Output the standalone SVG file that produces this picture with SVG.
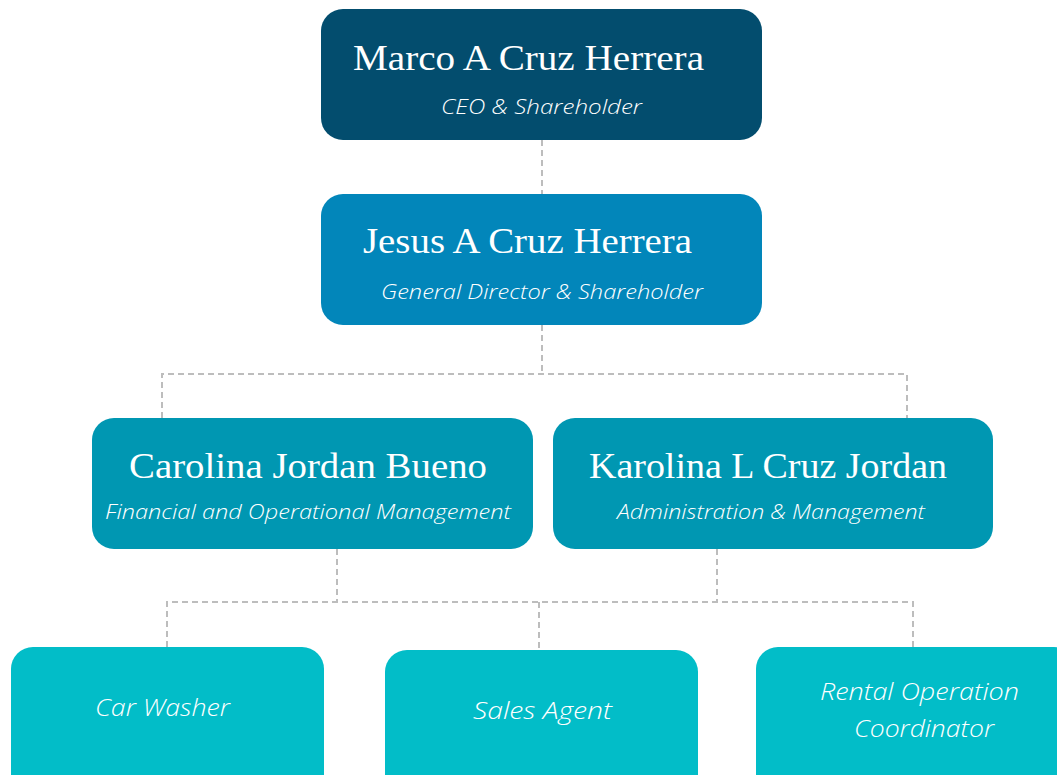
<svg xmlns="http://www.w3.org/2000/svg" width="1057" height="775" viewBox="0 0 1057 775">
<style>
.name{font-family:"Liberation Serif",serif;font-size:36px;fill:#fff}
.sub{font-family:"Open Sans","Noto Sans",sans-serif;font-style:italic;font-weight:300;font-size:21px;fill:#fff}
.job{font-family:"Open Sans","Noto Sans",sans-serif;font-style:italic;font-weight:300;font-size:24px;fill:#fff}
.con{fill:none;stroke:#BDBDBD;stroke-width:2;stroke-dasharray:6 4}
</style>
<rect width="1057" height="775" fill="#fff"/>
<g id="connectors">
<path class="con" d="M542 140V194"/>
<path class="con" d="M542 325V374M162 418V374H907V418"/>
<path class="con" d="M337 549V602M717 549V602M167 647V602H913V647M539 602V650"/>
</g>
<g id="ceo">
<rect x="321" y="9" width="441" height="131" rx="22" fill="#034D6E"/>
<text class="name" x="353" y="70" textLength="351" lengthAdjust="spacingAndGlyphs">Marco A Cruz Herrera</text>
<text class="sub" x="441" y="114" textLength="201" lengthAdjust="spacingAndGlyphs">CEO &amp; Shareholder</text>
</g>
<g id="director">
<rect x="321" y="194" width="441" height="131" rx="22" fill="#0286BA"/>
<text class="name" x="363" y="253" textLength="329" lengthAdjust="spacingAndGlyphs">Jesus A Cruz Herrera</text>
<text class="sub" x="381" y="299" textLength="322" lengthAdjust="spacingAndGlyphs">General Director &amp; Shareholder</text>
</g>
<g id="carolina">
<rect x="92" y="418" width="441" height="131" rx="22" fill="#0097B2"/>
<text class="name" x="129" y="478" textLength="358" lengthAdjust="spacingAndGlyphs">Carolina Jordan Bueno</text>
<text class="sub" x="105" y="519" textLength="406" lengthAdjust="spacingAndGlyphs">Financial and Operational Management</text>
</g>
<g id="karolina">
<rect x="553" y="418" width="440" height="131" rx="22" fill="#0097B2"/>
<text class="name" x="589" y="478" textLength="358" lengthAdjust="spacingAndGlyphs">Karolina L Cruz Jordan</text>
<text class="sub" x="617" y="519" textLength="308" lengthAdjust="spacingAndGlyphs">Administration &amp; Management</text>
</g>
<g id="carwasher">
<rect x="11" y="647" width="313" height="150" rx="22" fill="#02BDC8"/>
<text class="job" x="95" y="716" textLength="135" lengthAdjust="spacingAndGlyphs">Car Washer</text>
</g>
<g id="salesagent">
<rect x="385" y="650" width="313" height="150" rx="22" fill="#02BDC8"/>
<text class="job" x="473" y="719" textLength="139" lengthAdjust="spacingAndGlyphs">Sales Agent</text>
</g>
<g id="rental">
<rect x="756" y="647" width="320" height="150" rx="22" fill="#02BDC8"/>
<text class="job" x="820" y="700" textLength="199" lengthAdjust="spacingAndGlyphs">Rental Operation</text>
<text class="job" x="854" y="737" textLength="140" lengthAdjust="spacingAndGlyphs">Coordinator</text>
</g>
</svg>
